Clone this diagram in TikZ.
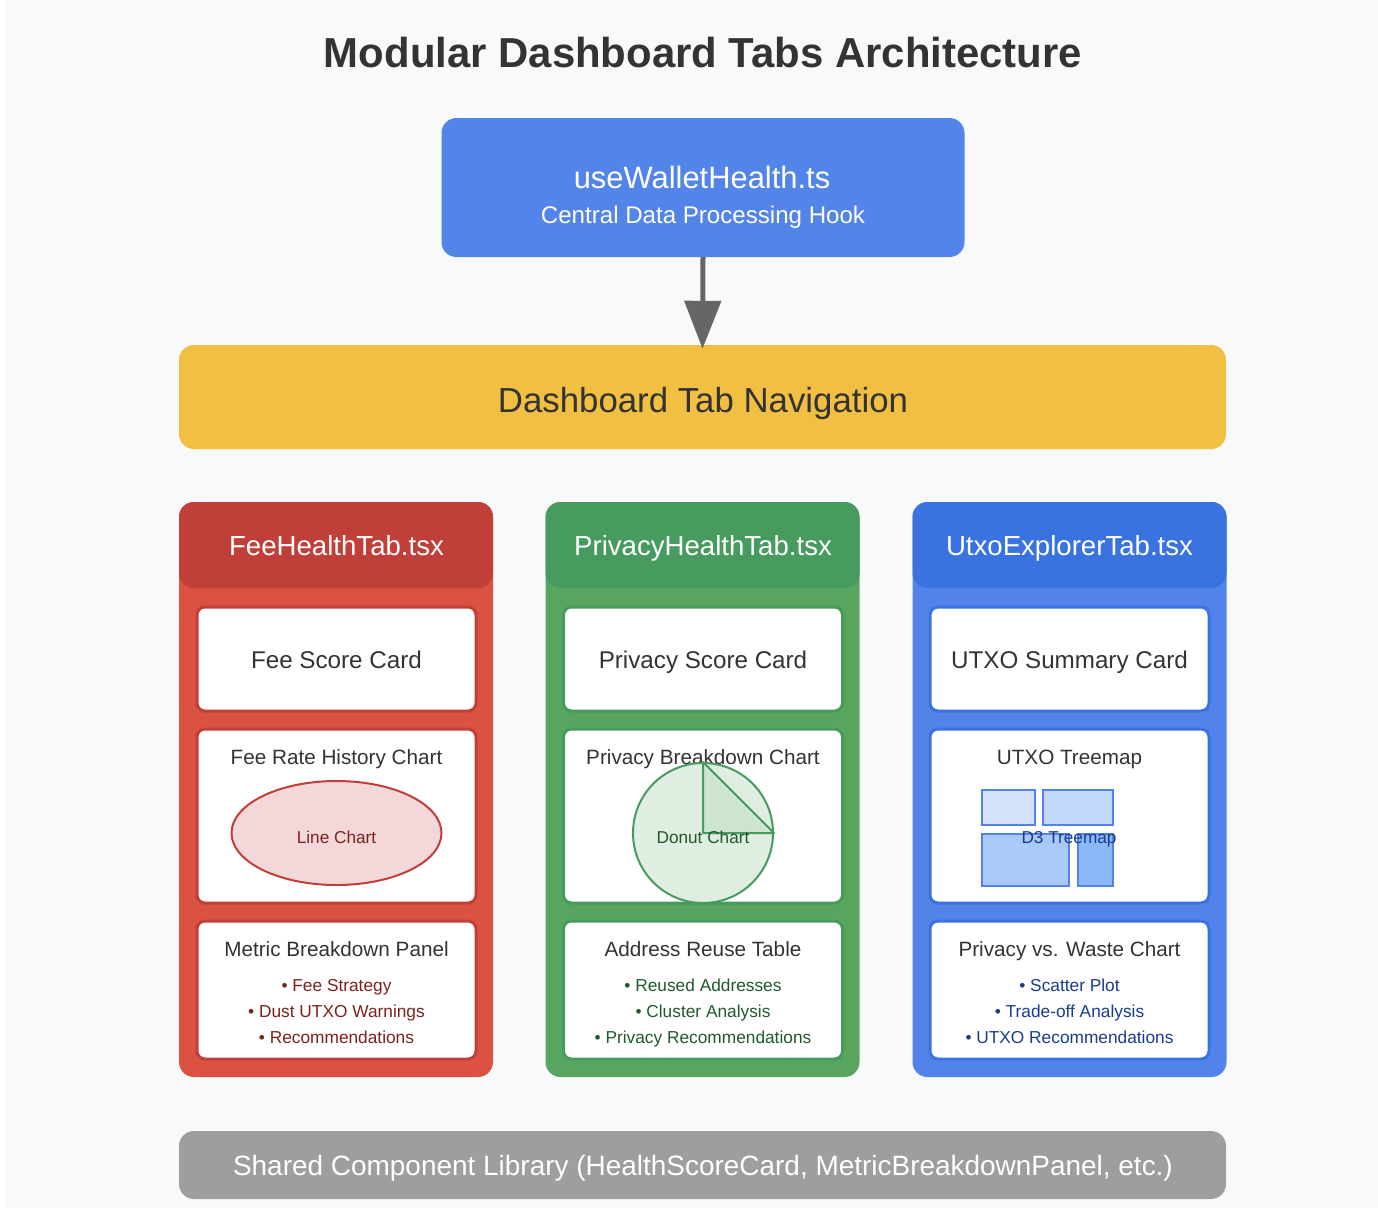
\documentclass[tikz,border=0pt]{standalone}
\usepackage{fontspec}
\setmainfont{Liberation Sans}
\usetikzlibrary{arrows.meta,shapes.geometric}

\definecolor{pagebg}{HTML}{F8F9FA}
\definecolor{txtdark}{HTML}{333333}
\definecolor{hookblue}{HTML}{5284EA}
\definecolor{navyellow}{HTML}{F1C042}
\definecolor{sharedgray}{HTML}{9E9E9E}
\definecolor{arrowgray}{HTML}{666666}
\definecolor{feebody}{HTML}{DB5142}
\definecolor{feehead}{HTML}{C13F39}
\definecolor{feetext}{HTML}{7B221E}
\definecolor{feefill}{HTML}{F4D7D9}
\definecolor{privbody}{HTML}{57A55E}
\definecolor{privhead}{HTML}{479B5E}
\definecolor{privtext}{HTML}{1E5A2C}
\definecolor{utxobody}{HTML}{5283EA}
\definecolor{utxohead}{HTML}{3A73DF}
\definecolor{utxotext}{HTML}{1A3C8C}
\definecolor{treeA}{HTML}{D3E3FC}
\definecolor{treeB}{HTML}{C0D8FB}
\definecolor{treeC}{HTML}{A9C9F8}
\definecolor{treeD}{HTML}{8BB8F8}

\newcommand{\fsz}[1]{\fontsize{#1pt}{#1pt}\selectfont}

\tikzset{
	panel/.style={rounded corners=15pt, inner sep=0pt},
	tabcol/.style={panel, minimum width=314pt, minimum height=575pt},
	tabhead/.style={panel, minimum width=314pt, minimum height=86pt},
	card/.style={fill=white, line width=3pt, rounded corners=8pt, inner sep=0pt, minimum width=279pt},
	lbl/.style={anchor=base, inner sep=0pt, text=txtdark},
}

\begin{document}
\begin{tikzpicture}[x=1pt, y=-1pt]
	% page
	\fill[white] (0,0) rectangle (1378,1208);
	\fill[pagebg] (5,0) rectangle (1378,1208);
	\useasboundingbox (0,0) rectangle (1378,1208);

	\node[lbl] (title) at (703,67) {\fsz{41.9}\bfseries Modular Dashboard Tabs Architecture};

	% hook and navigation
	\node[panel, fill=hookblue, minimum width=523pt, minimum height=139pt] (hook) at (703,187.5) {};
	\node[lbl, text=white] (hookname) at (702,188) {\fsz{30.9}useWalletHealth.ts};
	\node[lbl, text=white] (hookdesc) at (703,223) {\fsz{24.1}Central Data Processing Hook};

	\node[panel, fill=navyellow, minimum width=1047pt, minimum height=104pt] (nav) at (702.5,397) {};
	\node[lbl] (navtext) at (703,412) {\fsz{34.8}Dashboard Tab Navigation};

	\draw[arrowgray, line width=5pt, -{Triangle[length=48pt,width=36pt]}] (hook.south) -- ([yshift=-4pt]nav.north);

	% fee column
	\node[tabcol, fill=feebody] (feecol) at (336,789.5) {};
	\node[tabhead, fill=feehead] (feehd) at (336,545) {};
	\node[lbl, text=white] (feetitle) at (336.5,555) {\fsz{27.6}FeeHealthTab.tsx};
	\node[card, draw=feehead, minimum height=104pt] (feeA) at (336.5,659) {};
	\node[card, draw=feehead, minimum height=174pt] (feeB) at (336.5,816) {};
	\node[card, draw=feehead, minimum height=138pt] (feeC) at (336.5,990) {};
	\node[lbl] (feeAt) at (336.5,668) {\fsz{24.2}Fee Score Card};
	\node[lbl] (feeBt) at (336.5,764.5) {\fsz{20.7}Fee Rate History Chart};
	\node[ellipse, fill=feefill, draw=feehead, line width=2pt, minimum width=210pt, minimum height=104pt, inner sep=0pt] (linechart) at (336.5,833) {};
	\node[lbl, text=feetext] (linelbl) at (336.5,843) {\fsz{17.2}Line Chart};
	\node[lbl] (feeCt) at (336.5,956) {\fsz{20.7}Metric Breakdown Panel};
	\node[lbl, text=feetext] (feeC1) at (336.5,991) {\fsz{17.3}• Fee Strategy};
	\node[lbl, text=feetext] (feeC2) at (336.5,1017) {\fsz{17.3}• Dust UTXO Warnings};
	\node[lbl, text=feetext] (feeC3) at (336.5,1043) {\fsz{17.3}• Recommendations};

	% privacy column
	\node[tabcol, fill=privbody] (privcol) at (702.5,789.5) {};
	\node[tabhead, fill=privhead] (privhd) at (702.5,545) {};
	\node[lbl, text=white] (privtitle) at (703,555) {\fsz{27.6}PrivacyHealthTab.tsx};
	\node[card, draw=privhead, minimum height=104pt] (privA) at (703,659) {};
	\node[card, draw=privhead, minimum height=174pt] (privB) at (703,816) {};
	\node[card, draw=privhead, minimum height=138pt] (privC) at (703,990) {};
	\node[lbl] (privAt) at (703,668) {\fsz{24.2}Privacy Score Card};
	\node[lbl] (privBt) at (703,764.5) {\fsz{20.7}Privacy Breakdown Chart};
	\node[circle, fill=privbody!20!white, fill opacity=0.9, draw=privhead, line width=2pt, minimum size=140pt, inner sep=0pt] (donut) at (703,833) {};
	\filldraw[fill=privbody!32!white, fill opacity=0.8, draw=privhead, line width=2pt, line join=round] (donut.center) -- (donut.north) -- (donut.east) -- cycle;
	\node[lbl, text=privtext] (donutlbl) at (703,843) {\fsz{17.2}Donut Chart};
	\node[lbl] (privCt) at (703,956) {\fsz{20.7}Address Reuse Table};
	\node[lbl, text=privtext] (privC1) at (703,991) {\fsz{17.3}• Reused Addresses};
	\node[lbl, text=privtext] (privC2) at (703,1017) {\fsz{17.3}• Cluster Analysis};
	\node[lbl, text=privtext] (privC3) at (703,1043) {\fsz{17.3}• Privacy Recommendations};

	% utxo column
	\node[tabcol, fill=utxobody] (utxocol) at (1069.5,789.5) {};
	\node[tabhead, fill=utxohead] (utxohd) at (1069.5,545) {};
	\node[lbl, text=white] (utxotitle) at (1069.5,555) {\fsz{27.6}UtxoExplorerTab.tsx};
	\node[card, draw=utxohead, minimum height=104pt] (utxoA) at (1069.5,659) {};
	\node[card, draw=utxohead, minimum height=174pt] (utxoB) at (1069.5,816) {};
	\node[card, draw=utxohead, minimum height=138pt] (utxoC) at (1069.5,990) {};
	\node[lbl] (utxoAt) at (1069.5,668) {\fsz{24.2}UTXO Summary Card};
	\node[lbl] (utxoBt) at (1069.5,764.5) {\fsz{20.7}UTXO Treemap};
	\begin{scope}[draw=utxobody, line width=2pt]
		\filldraw[fill=treeA] (982,790) rectangle (1035,825);
		\filldraw[fill=treeB] (1043,790) rectangle (1113,825);
		\filldraw[fill=treeC] (982,834) rectangle (1069,886);
		\filldraw[fill=treeD] (1078,834) rectangle (1113,886);
	\end{scope}
	\node[lbl, text=utxotext] (treelbl) at (1069,843) {\fsz{17.2}D3 Treemap};
	\node[lbl] (utxoCt) at (1069.5,956) {\fsz{20.7}Privacy vs. Waste Chart};
	\node[lbl, text=utxotext] (utxoC1) at (1069.5,991) {\fsz{17.3}• Scatter Plot};
	\node[lbl, text=utxotext] (utxoC2) at (1069.5,1017) {\fsz{17.3}• Trade-off Analysis};
	\node[lbl, text=utxotext] (utxoC3) at (1069.5,1043) {\fsz{17.3}• UTXO Recommendations};

	% shared library
	\node[panel, fill=sharedgray, minimum width=1047pt, minimum height=68pt] (shared) at (702.5,1165) {};
	\node[lbl, text=white] (sharedtext) at (703,1175) {\fsz{27.95}Shared Component Library (HealthScoreCard, MetricBreakdownPanel, etc.)};
\end{tikzpicture}
\end{document}
